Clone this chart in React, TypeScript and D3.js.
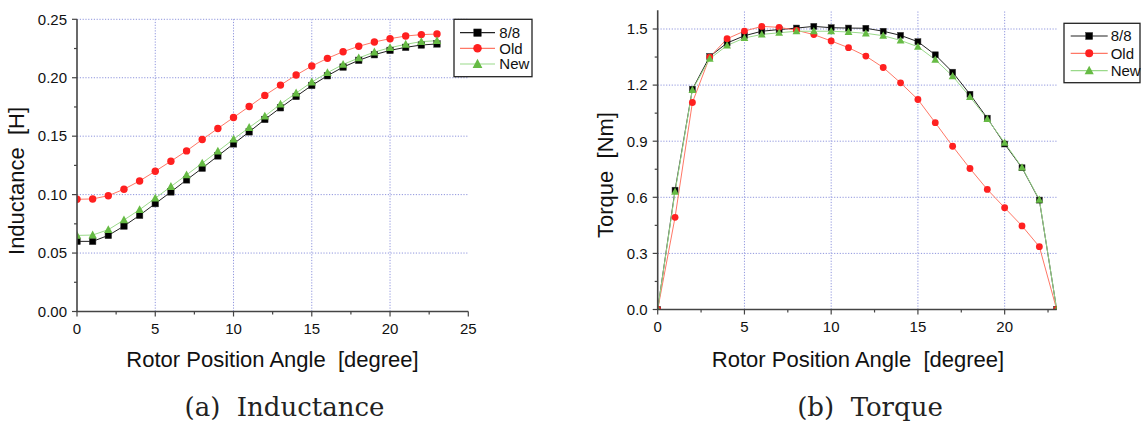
import React from "react";
import * as d3 from "d3";

const angles = d3.range(0, 24);

const indNew88 = [0.060, 0.060, 0.0651, 0.0731, 0.0823, 0.0923, 0.1023, 0.1126, 0.1226, 0.1331, 0.1434, 0.1537, 0.1643, 0.1743, 0.184, 0.1934, 0.2017, 0.2091, 0.2149, 0.2197, 0.2234, 0.226, 0.228, 0.2289];
const indOld = [0.096, 0.0963, 0.0991, 0.1046, 0.1117, 0.120, 0.1286, 0.1374, 0.1471, 0.1566, 0.166, 0.1754, 0.1849, 0.1937, 0.2023, 0.210, 0.2166, 0.2223, 0.2269, 0.2306, 0.2334, 0.2357, 0.2369, 0.2374];
const indNew = [0.0651, 0.0654, 0.070, 0.0783, 0.0871, 0.0969, 0.1069, 0.1169, 0.1269, 0.1371, 0.1474, 0.1574, 0.1671, 0.1774, 0.1869, 0.1963, 0.2043, 0.2114, 0.2169, 0.222, 0.2257, 0.2286, 0.2309, 0.2317];

const torq88 = [0, 0.638, 1.178, 1.353, 1.425, 1.464, 1.488, 1.497, 1.505, 1.514, 1.507, 1.505, 1.504, 1.488, 1.466, 1.432, 1.362, 1.269, 1.151, 1.023, 0.885, 0.758, 0.585, 0];
const torqOld = [0, 0.493, 1.107, 1.35, 1.448, 1.489, 1.514, 1.509, 1.493, 1.47, 1.436, 1.40, 1.355, 1.294, 1.212, 1.123, 0.999, 0.873, 0.754, 0.642, 0.544, 0.447, 0.336, 0];
const torqNew = [0, 0.63, 1.175, 1.341, 1.412, 1.452, 1.471, 1.48, 1.488, 1.488, 1.488, 1.484, 1.477, 1.464, 1.439, 1.405, 1.336, 1.248, 1.137, 1.019, 0.892, 0.76, 0.588, 0];

const seriesNames = ["8/8", "Old", "New"];
const leftTicksY = [0, 0.05, 0.1, 0.15, 0.2, 0.25];
const rightTicksY = [0, 0.3, 0.6, 0.9, 1.2, 1.5];
const xTicksLeft = [0, 5, 10, 15, 20, 25];
const xTicksRight = [0, 5, 10, 15, 20];

const SANS = "'Liberation Sans', Arial, sans-serif";
const SERIF = "'DejaVu Serif', serif";
const styles = [
  { line: "#222222", fill: "#000000", shape: "square" },
  { line: "#ff7766", fill: "#ff2020", shape: "circle" },
  { line: "#9ad98a", fill: "#66bb44", shape: "triangle" },
];

function Marker({ shape, x, y, fill, s }: any) {
  if (shape === "square") return <rect x={x - s / 2} y={y - s / 2} width={s} height={s} fill={fill} stroke="#333" strokeWidth={0.5} />;
  if (shape === "circle") return <circle cx={x} cy={y} r={s * 0.57} fill={fill} />;
  const h = s * 1.15;
  const w = s * 1.3;
  return <path d={`M${x},${y - h * 0.6}L${x + w / 2},${y + h * 0.45}L${x - w / 2},${y + h * 0.45}Z`} fill={fill} />;
}

function Chart({ id, x0, x1, y0, y1, xDomain, yDomain, xTicks, xMinor, yTicks, yMinor, yFmt, series, yTitle, yTitleX, yTitleY, xTitleX, caption, legend, ms }: any) {
  const x = d3.scaleLinear().domain(xDomain).range([x0, x1]);
  const y = d3.scaleLinear().domain(yDomain).range([y0, y1]);
  const line = d3.line<number>().x((_, i) => x(angles[i])).y((v) => y(v));
  const gridX = xTicks.filter((t: number) => t > xDomain[0] && t < xDomain[1]);
  const gridY = yTicks.filter((t: number) => t > yDomain[0]);
  return (
    <g>
      <defs>
        <clipPath id={id}>
          <rect x={x0} y={y1 - 10} width={x1 - x0} height={y0 - y1 + 10} />
        </clipPath>
      </defs>
      {gridX.map((t: number) => (
        <line key={"gx" + t} x1={x(t)} x2={x(t)} y1={y0} y2={y1} stroke="#8f95dd" strokeWidth={1} strokeDasharray="1.2 1.6" />
      ))}
      {gridY.map((t: number) => (
        <line key={"gy" + t} x1={x0} x2={x1} y1={y(t)} y2={y(t)} stroke="#8f95dd" strokeWidth={1} strokeDasharray="1.2 1.6" />
      ))}
      <g clipPath={`url(#${id})`}>
        {series.map((vals: number[], k: number) => (
          <path key={"l" + k} d={line(vals) || ""} fill="none" stroke={styles[k].line} strokeWidth={1} />
        ))}
        {series.map((vals: number[], k: number) =>
          vals.map((v, i) => <Marker key={k + "-" + i} shape={styles[k].shape} x={x(angles[i])} y={y(v)} fill={styles[k].fill} s={ms} />)
        )}
      </g>
      <line x1={x0} x2={x0} y1={y0 + 0.5} y2={y1} stroke="#444" strokeWidth={1.6} />
      <line x1={x0 - 0.8} x2={x1} y1={y0} y2={y0} stroke="#444" strokeWidth={1.6} />
      {xTicks.map((t: number) => (
        <g key={"xt" + t}>
          <line x1={x(t)} x2={x(t)} y1={y0} y2={y0 + 5} stroke="#444" strokeWidth={1.2} />
          <text x={x(t)} y={y0 + 22} textAnchor="middle" fontFamily={SANS} fontSize={15} fill="#111">{t}</text>
        </g>
      ))}
      {xMinor.map((t: number) => (
        <line key={"xm" + t} x1={x(t)} x2={x(t)} y1={y0} y2={y0 + 3} stroke="#444" strokeWidth={1.2} />
      ))}
      {yTicks.map((t: number) => (
        <g key={"yt" + t}>
          <line x1={x0} x2={x0 - 5} y1={y(t)} y2={y(t)} stroke="#444" strokeWidth={1.2} />
          <text x={x0 - 10} y={y(t) + 5.3} textAnchor="end" fontFamily={SANS} fontSize={15} fill="#111">{yFmt(t)}</text>
        </g>
      ))}
      {yMinor.map((t: number) => (
        <line key={"ym" + t} x1={x0} x2={x0 - 3} y1={y(t)} y2={y(t)} stroke="#444" strokeWidth={1.2} />
      ))}
      <text transform={`translate(${yTitleX},${yTitleY}) rotate(-90)`} textAnchor="middle" fontFamily={SANS} fontSize={22} fill="#111" style={{ whiteSpace: "pre" }}>{yTitle}</text>
      <text x={xTitleX} y={366.5} textAnchor="middle" fontFamily={SANS} fontSize={22} fill="#111" style={{ whiteSpace: "pre" }}>{"Rotor Position Angle  [degree]"}</text>
      <text x={xTitleX + 12} y={416} textAnchor="middle" fontFamily={SERIF} fontSize={26} fill="#222" style={{ whiteSpace: "pre" }}>{caption}</text>
      <rect x={legend.bx} y={legend.by} width={legend.bw} height={legend.bh} fill="white" stroke="#222" strokeWidth={1.3} />
      {seriesNames.map((n, k) => (
        <g key={"lg" + k}>
          <line x1={legend.lx0} x2={legend.lx1} y1={legend.ys[k]} y2={legend.ys[k]} stroke={styles[k].line} strokeWidth={1.2} />
          <Marker shape={styles[k].shape} x={(legend.lx0 + legend.lx1) / 2} y={legend.ys[k]} fill={styles[k].fill} s={ms + 1} />
          <text x={legend.tx} y={legend.ys[k] + 5.3} fontFamily={SANS} fontSize={15} fill="#111">{n}</text>
        </g>
      ))}
    </g>
  );
}

export default function App() {
  return (
    <svg width={1141} height={423} style={{ position: "absolute", left: 0, top: 0, background: "white" }}>
      <rect width={1141} height={423} fill="white" />
      <Chart
        id="clipA"
        x0={77} x1={468.3} y0={311.5} y1={19.3}
        xDomain={[0, 25]} yDomain={[0, 0.25]}
        xTicks={xTicksLeft} xMinor={[2.5, 7.5, 12.5, 17.5, 22.5]}
        yTicks={leftTicksY} yMinor={[0.025, 0.075, 0.125, 0.175, 0.225]}
        yFmt={(t: number) => t.toFixed(2)}
        series={[indNew88, indOld, indNew]}
        yTitle={"Inductance  [H]"} yTitleX={24} yTitleY={181}
        xTitleX={272.5} caption={"(a)  Inductance"}
        legend={{ bx: 454, by: 19.3, bw: 78, bh: 57.4, lx0: 460, lx1: 495, ys: [32.7, 48.3, 64], tx: 499.3 }}
        ms={6.5}
      />
      <Chart
        id="clipB"
        x0={657.7} x1={1056.7} y0={309.5} y1={10.3}
        xDomain={[0, 23]} yDomain={[0, 1.6]}
        xTicks={xTicksRight} xMinor={[2.5, 7.5, 12.5, 17.5, 22.5]}
        yTicks={rightTicksY} yMinor={[0.15, 0.45, 0.75, 1.05, 1.35]}
        yFmt={(t: number) => t.toFixed(1)}
        series={[torq88, torqOld, torqNew]}
        yTitle={"Torque  [Nm]"} yTitleX={613} yTitleY={175}
        xTitleX={858} caption={"(b)  Torque"}
        legend={{ bx: 1064, by: 23.3, bw: 76, bh: 59.4, lx0: 1070.7, lx1: 1107.7, ys: [36, 53.3, 70.7], tx: 1110.7 }}
        ms={6}
      />
    </svg>
  );
}
